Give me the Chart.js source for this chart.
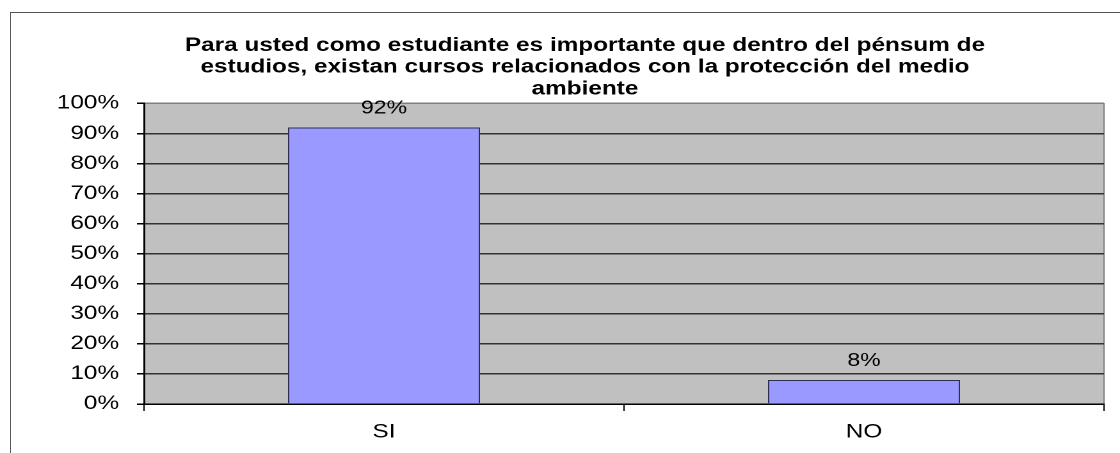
<!DOCTYPE html>
<html>
<head>
<meta charset="utf-8">
<script src="https://cdn.jsdelivr.net/npm/chart.js@4.4.1/dist/chart.umd.min.js"></script>
<style>
    body { margin: 0; background: #fff; overflow: hidden; }
    #frame {
        position: absolute; left: 10px; top: 12px;
        width: 1300px; height: 600px;
        border: 1px solid #555;
    }
    /* the original picture is stretched sideways, so we stretch too */
    #wrap {
        position: absolute; left: 0; top: 0;
        width: 914px; height: 453px;
        transform: scaleX(1.28); transform-origin: 0 0;
    }
</style>
</head>
<body>
<div id="frame"></div>
<div id="wrap"><canvas id="myChart"></canvas></div>
<script>
// data
const titleLines = [
    'Para usted como estudiante es importante que dentro del pénsum de',
    'estudios, existan cursos relacionados con la protección del medio',
    'ambiente'
];
const categories = ['SI', 'NO'];
const percentages = [92, 8];
const yTicks = [0, 10, 20, 30, 40, 50, 60, 70, 80, 90, 100];

const fontName = '"Liberation Sans", Arial, sans-serif';

// grey plot background with a thin grey frame
const plotBackground = {
    id: 'plotBackground',
    beforeDraw(chart) {
        const a = chart.chartArea;
        const c = chart.ctx;
        c.save();
        c.fillStyle = '#c0c0c0';
        c.fillRect(a.left, a.top, a.right - a.left, a.bottom - a.top);
        c.strokeStyle = '#808080';
        c.lineWidth = 1;
        c.strokeRect(a.left, a.top, a.right - a.left, a.bottom - a.top);
        c.restore();
    }
};

// value labels above the bars
const valueLabels = {
    id: 'valueLabels',
    afterDatasetsDraw(chart) {
        const c = chart.ctx;
        c.save();
        c.font = '18px ' + fontName;
        c.fillStyle = '#000';
        c.textAlign = 'center';
        c.textBaseline = 'middle';
        chart.getDatasetMeta(0).data.forEach(function (bar, i) {
            c.fillText(percentages[i] + '%', bar.x, bar.y - 19);
        });
        c.restore();
    }
};

let ctx = document.getElementById('myChart').getContext('2d');
let chart = new Chart(ctx, {
    type: 'bar',
    data: {
        labels: categories,
        datasets: [{
            data: percentages,
            backgroundColor: '#9999ff',
            borderColor: '#2e2e55',
            borderWidth: 1,
            barPercentage: 0.4,
            categoryPercentage: 1
        }]
    },
    options: {
        responsive: true,
        maintainAspectRatio: false,
        animation: false,
        devicePixelRatio: 2,
        layout: { padding: 0 },
        plugins: {
            legend: { display: false },
            tooltip: { enabled: false },
            title: {
                display: true,
                text: titleLines,
                color: '#000',
                font: { family: fontName, size: 19, weight: 'bold', lineHeight: 1.14 },
                padding: { top: 35, bottom: 3.5 }
            }
        },
        scales: {
            x: {
                offset: true,
                afterFit: function (scale) { scale.height = 49; },
                grid: {
                    offset: true,
                    drawOnChartArea: false,
                    tickLength: 7,
                    tickColor: '#000'
                },
                border: { color: '#000', width: 1.5 },
                ticks: {
                    color: '#000',
                    padding: 10,
                    font: { family: fontName, size: 19 }
                }
            },
            y: {
                min: 0,
                max: 100,
                afterFit: function (scale) { scale.width = 112.5; },
                afterBuildTicks: function (scale) {
                    scale.ticks = yTicks.map(function (v) { return { value: v }; });
                },
                grid: {
                    color: function (c) { return c.tick && c.tick.value === 100 ? '#808080' : '#333'; },
                    lineWidth: 1.5,
                    tickLength: 5.5,
                    tickColor: '#000'
                },
                border: { color: '#000', width: 1.5 },
                ticks: {
                    color: '#000',
                    padding: 14,
                    font: { family: fontName, size: 19 },
                    callback: function (v) { return v + '%'; }
                }
            },
            // empty right-hand axis, only keeps the plot clear of the right edge
            spacer: {
                type: 'linear',
                position: 'right',
                afterFit: function (scale) { scale.width = 51.5; },
                grid: { display: false },
                border: { display: false },
                ticks: { display: false }
            }
        }
    },
    plugins: [plotBackground, valueLabels]
});
</script>
</body>
</html>
